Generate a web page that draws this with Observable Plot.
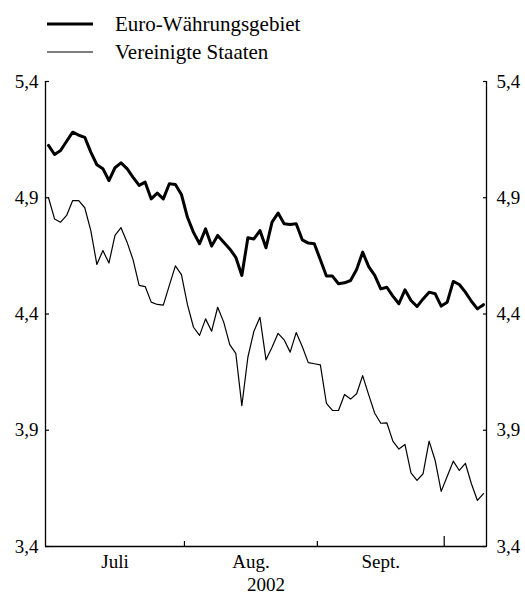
<!DOCTYPE html>
<html><head><meta charset="utf-8">
<script src="https://cdn.jsdelivr.net/npm/d3@7"></script>
<script src="https://cdn.jsdelivr.net/npm/@observablehq/plot@0.6"></script>
<style>
body{margin:0;background:#fff;font-family:"Liberation Serif","Times New Roman",serif;color:#000;overflow:hidden;}
#legend{position:relative;height:68px;width:525px;}
.item{position:absolute;left:47px;height:28px;display:flex;align-items:center;font-size:21px;}
.item svg{display:block;margin-right:22px;}
#chart svg{overflow:visible;}
</style>
</head><body>
<div id="legend"></div>
<div id="chart"></div>
<script>
const seriesNames = ["Euro-Währungsgebiet", "Vereinigte Staaten"];
const seriesWidths = [3, 1.2];
const euro = [5.125,5.086,5.103,5.143,5.182,5.169,5.160,5.096,5.042,5.025,
4.974,5.029,5.050,5.025,4.988,4.953,4.967,4.895,4.920,4.895,
4.960,4.957,4.914,4.816,4.751,4.702,4.766,4.692,4.738,4.709,
4.680,4.644,4.566,4.728,4.723,4.759,4.685,4.795,4.834,4.788,
4.785,4.788,4.719,4.705,4.702,4.633,4.563,4.563,4.530,4.534,
4.544,4.591,4.666,4.604,4.566,4.508,4.515,4.477,4.444,4.504,
4.458,4.432,4.465,4.494,4.487,4.434,4.451,4.540,4.527,4.494,
4.455,4.422,4.440];
const us = [4.900,4.809,4.795,4.824,4.888,4.888,4.857,4.759,4.613,4.673,
4.619,4.738,4.771,4.709,4.633,4.523,4.518,4.451,4.441,4.438,
4.523,4.607,4.569,4.440,4.343,4.308,4.379,4.326,4.429,4.365,
4.268,4.231,4.006,4.214,4.326,4.386,4.203,4.257,4.317,4.289,
4.236,4.320,4.260,4.191,4.186,4.181,4.016,3.985,3.985,4.054,
4.034,4.057,4.135,4.052,3.973,3.930,3.932,3.853,3.819,3.839,
3.717,3.684,3.713,3.853,3.770,3.637,3.702,3.767,3.727,3.758,
3.670,3.598,3.627];
const yTicks = [3.4, 3.9, 4.4, 4.9, 5.4];
const monthNames = ["Juli", "Aug.", "Sept."];
const monthCenters = [11, 33.5, 55];
const monthBounds = [22.5, 44.5];
const quarterBound = [65.5];
const xDomain = [-0.5, 72.5];
const yearLabel = "2002";

// legend
const legend = document.getElementById("legend");
seriesNames.forEach((name, i) => {
  const div = document.createElement("div");
  div.className = "item";
  div.style.top = (10 + i * 28) + "px";
  div.innerHTML = `<svg width="46" height="8"><line x1="0" x2="46" y1="4" y2="4" stroke="#000" stroke-width="${seriesWidths[i]}"/></svg><span>${name}</span>`;
  legend.appendChild(div);
});

const fmt = d => d.toFixed(1).replace(".", ",");
const chart = Plot.plot({
  width: 525, height: 528,
  marginTop: 13, marginBottom: 50, marginLeft: 45, marginRight: 39,
  x: {domain: xDomain, label: null},
  y: {domain: [3.4, 5.4], label: null},
  style: {fontFamily: '"Liberation Serif","Times New Roman",serif', fontSize: "19px", color: "#000", background: "#fff", overflow: "visible"},
  marks: [
    Plot.axisY(yTicks, {anchor: "left", tickSize: -4, tickPadding: 11, tickFormat: fmt, label: null, strokeWidth: 1.2}),
    Plot.axisY(yTicks, {anchor: "right", tickSize: -4, tickPadding: 14, tickFormat: fmt, label: null, strokeWidth: 1.2}),
    Plot.axisX(monthBounds, {anchor: "bottom", tickSize: -5, tickFormat: () => "", label: null, strokeWidth: 1.2}),
    Plot.axisX(quarterBound, {anchor: "bottom", tickSize: -10, tickFormat: () => "", label: null, strokeWidth: 1.2}),
    Plot.axisX(monthCenters, {anchor: "bottom", tickSize: 0, tickPadding: 8, tickFormat: d => monthNames[monthCenters.indexOf(d)], label: null}),
    Plot.ruleX([xDomain[0], xDomain[1]], {stroke: "#000", strokeWidth: 1.3}),
    Plot.ruleY([3.4], {stroke: "#000", strokeWidth: 1.3}),
    Plot.lineY(us, {stroke: "#000", strokeWidth: seriesWidths[1]}),
    Plot.lineY(euro, {stroke: "#000", strokeWidth: seriesWidths[0]}),
    Plot.text([yearLabel], {frameAnchor: "bottom", dy: 38, lineAnchor: "middle", text: d => d, fill: "#000"})
  ]
});
document.getElementById("chart").appendChild(chart);
</script>
</body></html>
